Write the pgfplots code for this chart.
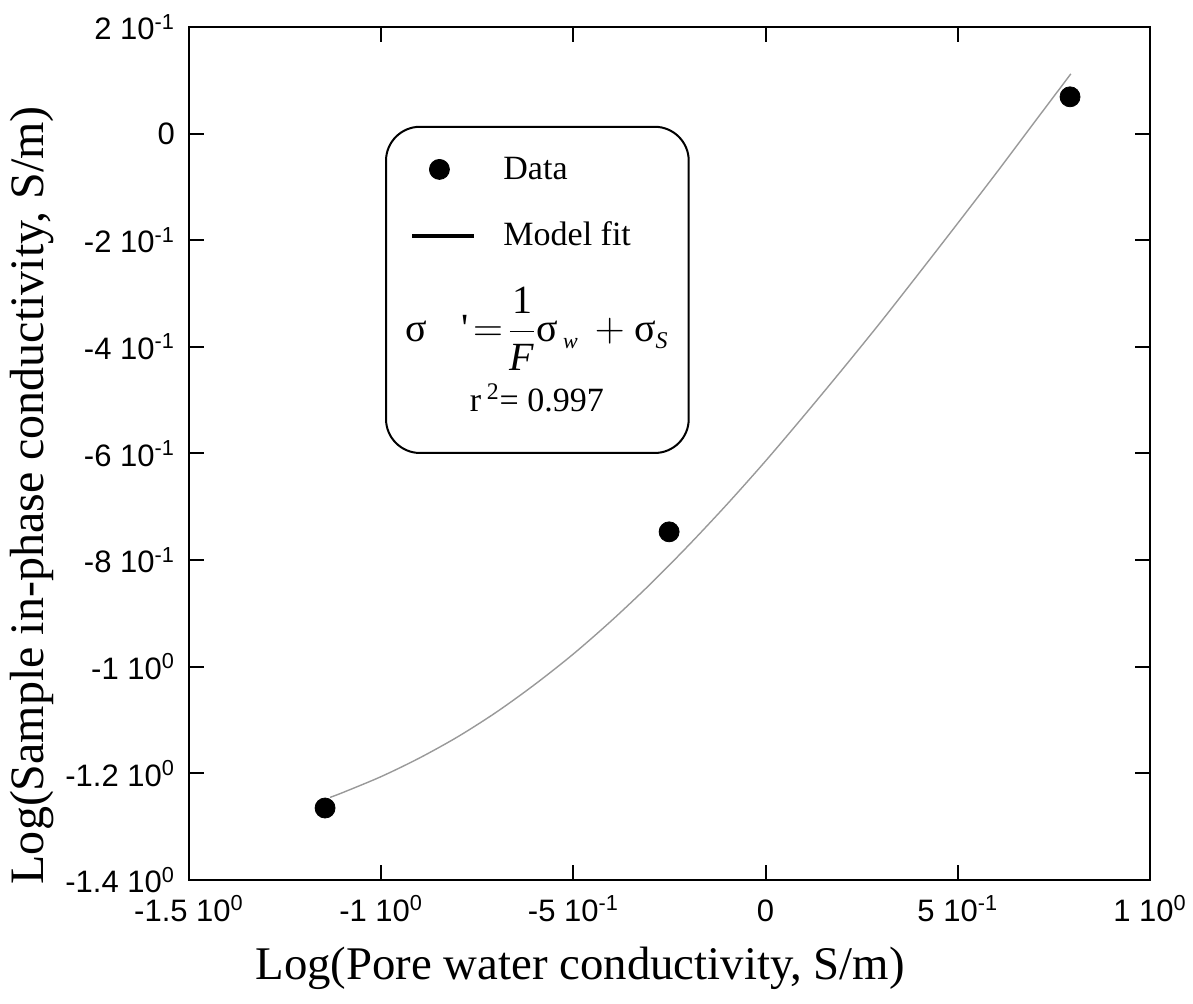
\documentclass[border=0pt]{standalone}
\usepackage{pgfplots}
\pgfplotsset{compat=1.18}
\usepackage{fontspec}
\setmainfont{Liberation Serif}
\newfontfamily\arial{Liberation Sans}
\pgfplotsset{
  dotleg/.style={legend image code/.code={\draw[##1] plot coordinates {(13.5pt,0pt)}; \path[draw=none,fill=none] (0pt,0pt) -- (31pt,0pt);}},
  lineleg/.style={legend image code/.code={\draw[##1] (0pt,0pt) -- (31pt,0pt);}},
}

\begin{document}
\begin{tikzpicture}
\begin{axis}[
    scale only axis,
    width=480.5pt, height=426.5pt,
    xmin=-1.5, xmax=1, ymin=-1.4, ymax=0.2,
    axis line style={line width=1pt},
    tick style={line width=1pt, black},
    tick align=inside,
    major tick length=7.5pt,
    xtick={-1.5,-1,-0.5,0,0.5,1},
    xticklabels={-1.5 10\textsuperscript{0},-1 10\textsuperscript{0},-5 10\textsuperscript{-1},0,5 10\textsuperscript{-1},1 10\textsuperscript{0}},
    ytick={-1.4,-1.2,-1,-0.8,-0.6,-0.4,-0.2,0,0.2},
    yticklabels={-1.4 10\textsuperscript{0},-1.2 10\textsuperscript{0},-1 10\textsuperscript{0},-8 10\textsuperscript{-1},-6 10\textsuperscript{-1},-4 10\textsuperscript{-1},-2 10\textsuperscript{-1},0,2 10\textsuperscript{-1}},
    ticklabel style={font=\arial\fontsize{15.5}{18}\selectfont},
    xticklabel style={yshift=-3pt, text height=14pt, text depth=1pt},
    yticklabel style={xshift=-3.5pt},
    xlabel={Log(Pore water conductivity, S/m)},
    ylabel={Log(Sample in-phase conductivity, S/m)},
    every axis x label/.style={at={(axis description cs:0.407,-0.1032)}, anchor=center,
        font=\fontsize{23.4}{28}\selectfont},
    every axis y label/.style={at={(axis description cs:-0.163,0.451)}, rotate=90, anchor=center,
        font=\fontsize{24}{28}\selectfont},
    legend style={at={(rel axis cs:0.23,0.853)}, anchor=north west, draw=none, fill=none,
        inner sep=0pt, font=\fontsize{17}{20}\selectfont, row sep=16pt},
    legend cell align=left,
    clip=false,
]
\addplot[only marks, mark=*, mark size=5pt, black, dotleg]
coordinates {
    (-1.146,-1.265)
    (-0.251,-0.747)
    (0.792,0.069)
};
\addlegendentry{\hspace{11.5pt}Data}
\addlegendimage{black, line width=2pt, lineleg}
\addlegendentry{\hspace{11.5pt}Model fit}
\addplot[gray!80, line width=0.7pt, smooth, forget plot] coordinates {
    (-1.133,-1.245) (-1.1,-1.236) (-1.0,-1.206) (-0.9,-1.171) (-0.8,-1.131)
    (-0.7,-1.085) (-0.6,-1.033) (-0.5,-0.976) (-0.4,-0.913) (-0.3,-0.845)
    (-0.2,-0.772) (-0.1,-0.695) (0,-0.614) (0.1,-0.529) (0.2,-0.442)
    (0.3,-0.353) (0.4,-0.261) (0.5,-0.168) (0.6,-0.074) (0.7,0.022) (0.794,0.112)
};
\draw[line width=1pt, rounded corners=17pt] (rel axis cs:0.205,0.5006) rectangle (rel axis cs:0.520,0.883);
\node[font=\fontsize{20}{24}\selectfont] at (rel axis cs:0.362,0.646)
    {$\displaystyle\mbox{σ}\;\;\;\mbox{\textquotesingle}\!=\!\frac{\mbox{1}}{\mbox{\itshape F}}\mbox{σ}_{\,\mbox{\fontsize{11}{12}\selectfont\itshape w}}\,+\mbox{σ}_{\mbox{\fontsize{12}{13}\selectfont\itshape S}}$};
\node[font=\fontsize{17}{20}\selectfont] at (rel axis cs:0.362,0.565) {r\,\textsuperscript{2}= 0.997};
\coordinate (bl) at (rel axis cs:0,0);
\coordinate (tr) at (rel axis cs:1,1);
\end{axis}
\pgfresetboundingbox
\path ([shift={(-94.5pt,-62pt)}]bl) rectangle ([shift={(21.5pt,13.5pt)}]tr);
\end{tikzpicture}
\end{document}
